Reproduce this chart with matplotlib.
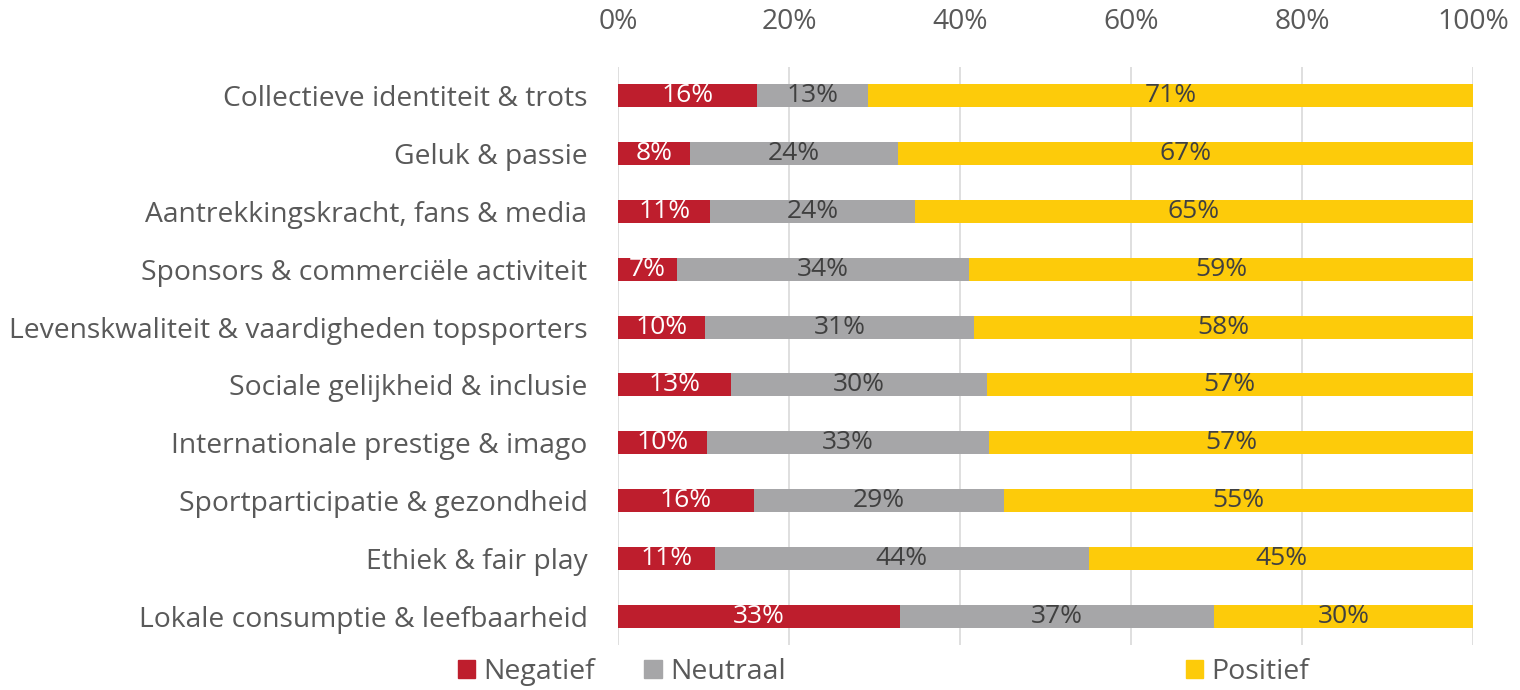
import matplotlib.pyplot as plt
from matplotlib.patches import Patch

categories = ['Collectieve identiteit & trots', 'Geluk & passie',
              'Aantrekkingskracht, fans & media', 'Sponsors & commerciële activiteit',
              'Levenskwaliteit & vaardigheden topsporters', 'Sociale gelijkheid & inclusie',
              'Internationale prestige & imago', 'Sportparticipatie & gezondheid',
              'Ethiek & fair play', 'Lokale consumptie & leefbaarheid']
negatief = [16.3, 8.4, 10.8, 6.9, 10.2, 13.2, 10.4, 15.9, 11.3, 33.0]
neutraal = [12.9, 24.4, 23.9, 34.2, 31.4, 29.9, 33.0, 29.2, 43.8, 36.7]
positief = [70.8, 67.2, 65.3, 58.9, 58.4, 56.9, 56.6, 54.9, 44.9, 30.3]
series = ['Negatief', 'Neutraal', 'Positief']
colors = ['#BE1E2D', '#A6A6A8', '#FDCB0A']
text_colors = ['white', '#404040', '#404040']

plt.rcParams['font.family'] = ['Open Sans', 'DejaVu Sans']

fig = plt.figure(figsize=(15.2, 6.9), dpi=100)
ax = fig.add_axes([0.4066, 0.0652, 0.5625, 0.8377])

y = list(range(len(categories)))
left = [0] * len(categories)
for vals, name, col, tcol in zip([negatief, neutraal, positief], series, colors, text_colors):
    bars = ax.barh(y, vals, left=left, height=0.4, color=col, label=name, zorder=3)
    ax.bar_label(bars, labels=[f'{v:.0f}%' for v in vals], label_type='center',
                 color=tcol, fontsize=19)
    left = [a + b for a, b in zip(left, vals)]

ax.set_xlim(0, 100)
ax.set_ylim(len(categories) - 0.5, -0.5)
ax.set_yticks(y)
ax.set_yticklabels(categories)
ax.set_xticks(range(0, 101, 20))
ax.set_xticklabels([f'{t}%' for t in range(0, 101, 20)])
ax.xaxis.tick_top()
ax.tick_params(axis='x', length=0, pad=22, labelsize=20.3, colors='#595959')
ax.tick_params(axis='y', length=0, pad=22, labelsize=20.3, colors='#595959')
ax.grid(axis='x', color='#D9D9D9', linewidth=1.2, zorder=0)
for s in ax.spines.values():
    s.set_visible(False)

xs = [0.301, 0.424, 0.780]
for name, col, xpos in zip(series, colors, xs):
    fig.legend(handles=[Patch(color=col, label=name)], loc='center left',
               bbox_to_anchor=(xpos, 0.026), frameon=False, fontsize=20.5,
               handlelength=0.6, handleheight=0.6, handletextpad=0.3,
               labelcolor='#595959', borderaxespad=0, borderpad=0)

fig.savefig('out.png', dpi=100)
